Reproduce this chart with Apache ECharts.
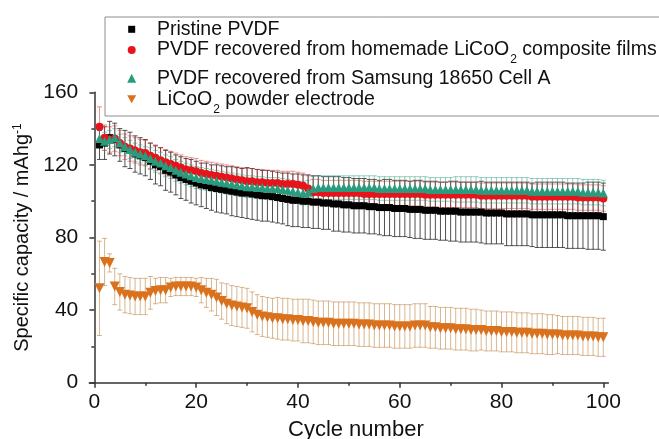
<!DOCTYPE html>
<html>
<head>
<meta charset="utf-8">
<script src="https://cdn.jsdelivr.net/npm/echarts@6/dist/echarts.min.js"></script>
<style>
  html, body { margin: 0; padding: 0; background: #fff; }
  #chart { width: 659px; height: 439px; }
</style>
</head>
<body>
<div id="chart"></div>
<script>
// cycle numbers
const cycles = [1,2,3,4,5,6,7,8,9,10,11,12,13,14,15,16,17,18,19,20,
  21,22,23,24,25,26,27,28,29,30,31,32,33,34,35,36,37,38,39,40,
  41,42,43,44,45,46,47,48,49,50,51,52,53,54,55,56,57,58,59,60,
  61,62,63,64,65,66,67,68,69,70,71,72,73,74,75,76,77,78,79,80,
  81,82,83,84,85,86,87,88,89,90,91,92,93,94,95,96,97,98,99,100];

// Pristine PVDF
const pristine = [131,132,135,134,131,129,128,126,125,124,
  122,120,119,117,116,114.5,113,112,111,110,
  109,108.5,107.5,107,106.5,106,105.5,105,104.5,104.5,
  104,103.5,103,103,102.5,102,101.5,101,100.5,100.5,
  100,100,99.5,99.5,99,99,98.5,98.5,98,98,
  97.5,97.5,97.5,97,97,96.5,96.5,96.5,96,96,
  96,95.5,95.5,95.5,95,95,95,94.5,94.5,94.5,
  94.5,94,94,94,94,94,93.5,93.5,93.5,93.5,
  93,93,93,93,93,92.5,92.5,92.5,92.5,92.5,
  92.5,92.5,92,92,92,92,92,92,92,91.5];
const pristineErr = [8,9,9,9,9,10,10,10,10,10,
  10,10.5,10.5,11,11,11,11.5,11.5,12,12,
  12,12.5,12.5,13,13,13,13.5,13.5,13.5,14,
  14,14,14,14,14,14,14,14.5,14.5,14.5,
  14.5,14.5,14.5,14.5,14.5,14.5,15,15,15,15,
  15,15,15,15,15,15,15.5,15.5,15.5,15.5,
  15.5,15.5,16,16,16,16,16,16,16,16.5,
  16.5,16.5,16.5,16.5,16.5,17,17,17,17,17,
  17.5,17.5,17.5,17.5,17.5,17.5,18,18,18,18,
  18,18,18,18,18,18,18.5,18.5,18.5,18.5];

// PVDF recovered from homemade LiCoO2 composite films
const homemade = [141,135,134,134.5,132,130,129,128,127,126.5,
  125,124,122.5,121.5,120.5,119.5,118.5,117.5,117,116.5,
  115.5,115,114.5,114,113.5,113,112.5,112,111.5,111,
  111,110.5,110.5,110,110,110,109.5,109.5,109.5,109,
  108.5,107,105,105,104.5,104.5,104.5,104.5,104.5,104.5,
  104.5,104.5,104,104,104,104,104,104,104,104,
  104,104,104,104,103.5,103.5,103.5,103.5,103.5,103.5,
  103.5,103.5,103.5,103.5,103.5,103,103,103,103,103,
  103,103,103,103,103,102.5,102.5,102.5,102.5,102.5,
  102.5,102.5,102.5,102.5,102,102,102,102,102,101.5];
const homemadeErr = [11,7,7,7,7,7,7,7,7,7,
  7,7,7,7,7,7,7,7,7,7,
  7,7,7,7,7,7,7,7,7,7,
  7,7,7,7,7,7,7,7,7,7,
  7,7,7,7,7,7,7,7,7,7,
  7,7,7,7,7,7,7,7,7,7,
  7,7,7,7,7,7,7,7,7,7,
  7,7,7,7,7,7,7,7,7,7,
  7,7,7,7,7,7,7,7,7,7,
  7,7,7,7,7,7,7,7,7,7];

// PVDF recovered from Samsung 18650 Cell A
const samsung = [134.5,133,134,135,132,130,128.5,127,126,125,
  123.5,122,121,119.5,118.5,117,116,115,114,113,
  112.5,112,111.5,111,110.5,110,109.5,109,108.5,108,
  108,107.5,107.5,107,107,107,106.5,106,105.5,105,
  104.5,105,107,107.5,107.5,107.5,107.5,107.5,107.5,107.5,
  107.5,107.5,107.5,107.5,107.5,107,107,107,107,107,
  107,107,107,107,107,106.5,106.5,106.5,106.5,106.5,
  106.5,106.5,106.5,106.5,106.5,106,106,106,106,106,
  106,106,106,106,106,105.5,105.5,105.5,105.5,105.5,
  105.5,105.5,105.5,105.5,105.5,105,105,105,105,104.5];
const samsungErr = [5,5,5,5,5,5,5,5,5,5,
  6,6,6,6,6,6,6,6,6,6,
  6,6,6,6,6,6,6,6,6,6,
  6,6,6,6,6,6,6,6,6,6,
  6.5,6.5,6.5,6.5,6.5,6.5,6.5,6.5,6.5,6.5,
  6.5,6.5,6.5,6.5,6.5,6.5,6.5,6.5,6.5,6.5,
  6.5,6.5,6.5,6.5,6.5,6.5,6.5,6.5,6.5,6.5,
  7,7,7,7,7,7,7,7,7,7,
  7,7,7,7,7,7,7,7,7,7,
  7,7,7,7,7,7,7,7,7,7];

// LiCoO2 powder electrode
const licoo = [52,66.5,66,53,50,48.5,48,47.5,47.5,47.5,
  49.5,50.5,51,51,52.5,53,53,53,53,52.5,
  51,49.5,48.5,47,45,43.5,42.5,42,41.5,41,
  39,37.5,36.5,36,35.5,35.5,35,35,34.5,34.5,
  34,34,33.5,33,33,33,32.5,32.5,32.5,32.5,
  32.5,32,32,32,31.5,31.5,31.5,31.5,31,31,
  31,31,31.5,31.5,31.5,30.5,30.5,30,30,30,
  29.5,29.5,29.5,29,29,29,28.5,28.5,28.5,28,
  28,28,27.5,27.5,27.5,27,27,27,26.5,26.5,
  26.5,26,26,26,26,25.5,25.5,25.5,25,25];
const licooErr = [26,13,5,10,10,10,10,10,10,10,
  9,7,7,7,5,5,5,5,5,5,
  7,8,9,10,10,11,11,11,11,11,
  11,11,11,11,11,11.5,11.5,11.5,11.5,11.5,
  12,12,12,12,12,12,12,12,12,12,
  12,12,12,12,12,12,12,12,12,12,
  12,12,12,12,12,11.5,11.5,11.5,11.5,11.5,
  11.5,11.5,11.5,11.5,11.5,11,11,11,11,11,
  11,11,11,11,11,11,11,11,11,11,
  10.5,10.5,10.5,10.5,10.5,10.5,10.5,10.5,10.5,10.5];

const xTicks = [0, 20, 40, 60, 80, 100];
const xMinorTicks = [10, 30, 50, 70, 90];

const names = [
  'Pristine PVDF',
  'PVDF recovered from homemade LiCoO2 composite films',
  'PVDF recovered from Samsung 18650 Cell A',
  'LiCoO2 powder electrode'
];

const FONT = 'Liberation Sans, Arial, sans-serif';

function points(vals) {
  return cycles.map((c, i) => [c, vals[i]]);
}
function withErr(vals, errs) {
  return cycles.map((c, i) => [c, vals[i], errs[i]]);
}

function errSeries(vals, errs, color) {
  return {
    type: 'custom',
    silent: true,
    encode: { x: 0, y: 1 },
    data: withErr(vals, errs),
    renderItem: function (params, api) {
      const x = api.value(0), y = api.value(1), e = api.value(2);
      const top = api.coord([x, y + e]);
      const bot = api.coord([x, y - e]);
      const st = { stroke: color, lineWidth: 1 };
      const cap = 2.5;
      return {
        type: 'group',
        children: [
          { type: 'line', shape: { x1: top[0], y1: top[1], x2: bot[0], y2: bot[1] }, style: st },
          { type: 'line', shape: { x1: top[0] - cap, y1: top[1], x2: top[0] + cap, y2: top[1] }, style: st },
          { type: 'line', shape: { x1: bot[0] - cap, y1: bot[1], x2: bot[0] + cap, y2: bot[1] }, style: st }
        ]
      };
    }
  };
}

function legendFor(name, top, size, icon) {
  const left = 131.7 - size / 2;
  const gap = 20.3 - size / 2;
  const item = icon ? { name: name, icon: icon } : name;
  return {
    data: [item],
    left: left,
    top: top,
    orient: 'vertical',
    padding: 0,
    itemWidth: size,
    itemHeight: size,
    selectedMode: false,
    formatter: function (n) {
      const parts = n.split('LiCoO2');
      let s = '{gap| }';
      parts.forEach((p, i) => {
        if (i > 0) s += '{t|LiCoO}{sub|2}';
        if (p) s += '{t|' + p + '}';
      });
      return s;
    },
    textStyle: {
      rich: {
        gap: { width: gap, fontSize: 19.5, lineHeight: 20, fontFamily: FONT },
        t: { fontSize: 19.5, lineHeight: 20, color: '#111', fontFamily: FONT },
        sub: { fontSize: 12, lineHeight: 20, color: '#111', fontFamily: FONT, verticalAlign: 'bottom', padding: [0, 0, -6, 1] }
      }
    }
  };
}

const chart = echarts.init(document.getElementById('chart'), null, { renderer: 'canvas' });
chart.setOption({
  animation: false,
  backgroundColor: '#fff',
  textStyle: { fontFamily: FONT },
  grid: { left: 89.3, top: 92.3, width: 519.1, bottom: 56.3, containLabel: false, outerBoundsMode: 'none' },
  legend: [
    legendFor(names[0], 19.3, 7),
    legendFor(names[1], 40, 8),
    legendFor(names[2], 68.3, 9),
    legendFor(names[3], 89.3, 9, 'path://M0,0L10,0L5,9Z')
  ],
  graphic: [{
    type: 'rect',
    shape: { x: 105, y: 17, width: 600, height: 99 },
    style: { fill: 'none', stroke: '#8c8c8c', lineWidth: 1 },
    silent: true,
    z: 10
  }],
  xAxis: [{
    type: 'value',
    min: -1,
    max: 101,
    position: 'bottom',
    name: 'Cycle number',
    nameLocation: 'middle',
    nameGap: 36,
    nameTextStyle: { fontSize: 22, color: '#111', fontFamily: FONT, padding: [0, 0, 0, 14] },
    axisLine: { lineStyle: { color: '#333', width: 1.5 } },
    axisTick: { customValues: xTicks, length: 5, lineStyle: { color: '#333', width: 1.5 } },
    axisLabel: { customValues: xTicks, fontSize: 21, color: '#111', margin: 9, fontFamily: FONT },
    splitLine: { show: false }
  }, {
    type: 'value',
    min: -1,
    max: 101,
    position: 'bottom',
    axisLine: { show: false },
    axisTick: { customValues: xMinorTicks, length: 3, lineStyle: { color: '#333', width: 1.5 } },
    axisLabel: { show: false },
    splitLine: { show: false }
  }],
  yAxis: {
    type: 'value',
    min: 0,
    max: 160,
    interval: 40,
    name: 'Specific capacity / mAhg{sup|-1}',
    nameLocation: 'middle',
    nameRotate: 90,
    nameGap: 50,
    nameTextStyle: {
      fontSize: 20, color: '#111', fontFamily: FONT,
      rich: {
        sup: { fontSize: 12, color: '#111', fontFamily: FONT, verticalAlign: 'top', padding: [0, 0, 10, 0] }
      }
    },
    axisLine: { show: true, lineStyle: { color: '#333', width: 1.5 } },
    axisTick: { show: true, length: 5, lineStyle: { color: '#333', width: 1.5 } },
    minorTick: { show: true, splitNumber: 2, length: 3, lineStyle: { color: '#333', width: 1.5 } },
    axisLabel: { fontSize: 21, color: '#111', margin: 11, fontFamily: FONT },
    splitLine: { show: false }
  },
  series: [
    errSeries(pristine, pristineErr, 'rgba(50,50,50,0.85)'),
    { name: names[0], type: 'scatter', symbol: 'rect', symbolSize: 7, itemStyle: { color: '#000', opacity: 1 }, data: points(pristine) },
    errSeries(homemade, homemadeErr, 'rgba(220,40,40,0.5)'),
    { name: names[1], type: 'scatter', symbol: 'circle', symbolSize: 8, itemStyle: { color: '#e8141b', opacity: 1 }, data: points(homemade) },
    errSeries(samsung, samsungErr, 'rgba(42,155,124,0.5)'),
    { name: names[2], type: 'scatter', symbol: 'triangle', symbolSize: 9, itemStyle: { color: '#2a9b7c', opacity: 1 }, data: points(samsung) },
    errSeries(licoo, licooErr, 'rgba(190,135,70,0.6)'),
    { name: names[3], type: 'scatter', symbol: 'triangle', symbolRotate: 180, symbolSize: 10, itemStyle: { color: '#d9711d', opacity: 1 }, data: points(licoo) }
  ]
});
</script>
</body>
</html>
